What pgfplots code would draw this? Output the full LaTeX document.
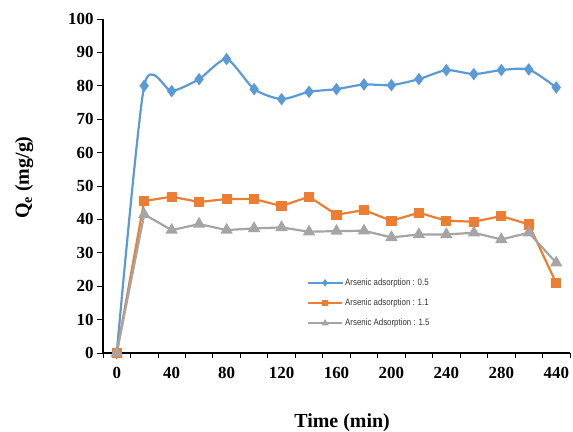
\documentclass[border=0pt]{standalone}
\usepackage{fontspec}
\setmainfont{Liberation Serif}
\newfontfamily\legfont[FakeStretch=0.85]{Liberation Sans}
\usepackage{pgfplots}
\pgfplotsset{compat=1.18}
\definecolor{cblue}{HTML}{5B9BD5}
\definecolor{corange}{HTML}{ED7D31}
\definecolor{cgray}{HTML}{A5A5A5}
\begin{document}
\begin{tikzpicture}
\useasboundingbox (-103bp,-79bp) rectangle (470bp,353bp);
\begin{axis}[
  scale only axis, width=467bp, height=334bp, at={(0,0)}, anchor=south west,
  xmin=-0.5, xmax=16.5, ymin=0, ymax=100,
  axis x line*=bottom, axis y line*=left,
  axis line style={line width=1.8bp, black},
  xtick={0,2,...,16}, xticklabels={0,40,80,120,160,200,240,280,440},
  minor xtick={-0.5,0.5,...,16.5},
  ytick={0,10,...,100},
  tick align=outside,
  major x tick style={draw=none},
  minor x tick style={black, line width=0.8bp},
  minor tick length=5bp,
  major tick length=6bp,
  y tick style={black, line width=0.8bp},
  ticklabel style={font=\bfseries\fontsize{17}{20}\selectfont},
  xticklabel style={yshift=-5bp},
  /pgf/number format/assume math mode=true,
  xlabel={Time (min)}, ylabel={Q\textsubscript{e} (mg/g)},
  label style={font=\bfseries\fontsize{20}{24}\selectfont},
  xlabel style={at={(axis description cs:0.512,-0.21)}, anchor=center},
  ylabel style={at={(axis description cs:-0.169,0.525)}, anchor=center},
  legend style={at={(axis description cs:0.43,0.235)}, anchor=north west, draw=none, fill=none,
    font=\legfont\fontsize{9.3}{11}\selectfont, text=black!80, row sep=8bp},
  legend cell align=left,
  legend image code/.code={\draw[mark repeat=2,mark phase=2] plot coordinates {(0bp,0bp)(17bp,0bp)(34bp,0bp)};},
  legend image post style={mark size=2bp},
]
\addplot[cblue, line width=2.2bp, smooth, tension=0.4, mark=diamond*, mark size=4.5bp, mark options={solid}]
 table {
x y
0 0
1 80
2 78.4
3 82
4 88
5 79
6 76
7 78.2
8 79
9 80.4
10 80.2
11 82
12 84.7
13 83.5
14 84.7
15 84.9
16 79.5
};
\addlegendentry{Arsenic adsorption : 0.5}
\addplot[corange, line width=2.2bp, mark=square*, mark size=4bp]
 table {
x y
0 0
1 45.5
2 46.8
3 45.2
4 46.1
5 46.1
6 44
7 46.8
8 41.4
9 42.8
10 39.6
11 42
12 39.6
13 39.3
14 41
15 38.5
16 20.9
};
\addlegendentry{Arsenic adsorption : 1.1}
\addplot[cgray, line width=2.2bp, mark=triangle*, mark size=5bp]
 table {
x y
0 0
1 41.5
2 36.8
3 38.6
4 36.8
5 37.3
6 37.6
7 36.3
8 36.5
9 36.6
10 34.6
11 35.5
12 35.5
13 36
14 34
15 36
16 27
};
\addlegendentry{Arsenic Adsorption : 1.5}
\end{axis}
\end{tikzpicture}
\end{document}
